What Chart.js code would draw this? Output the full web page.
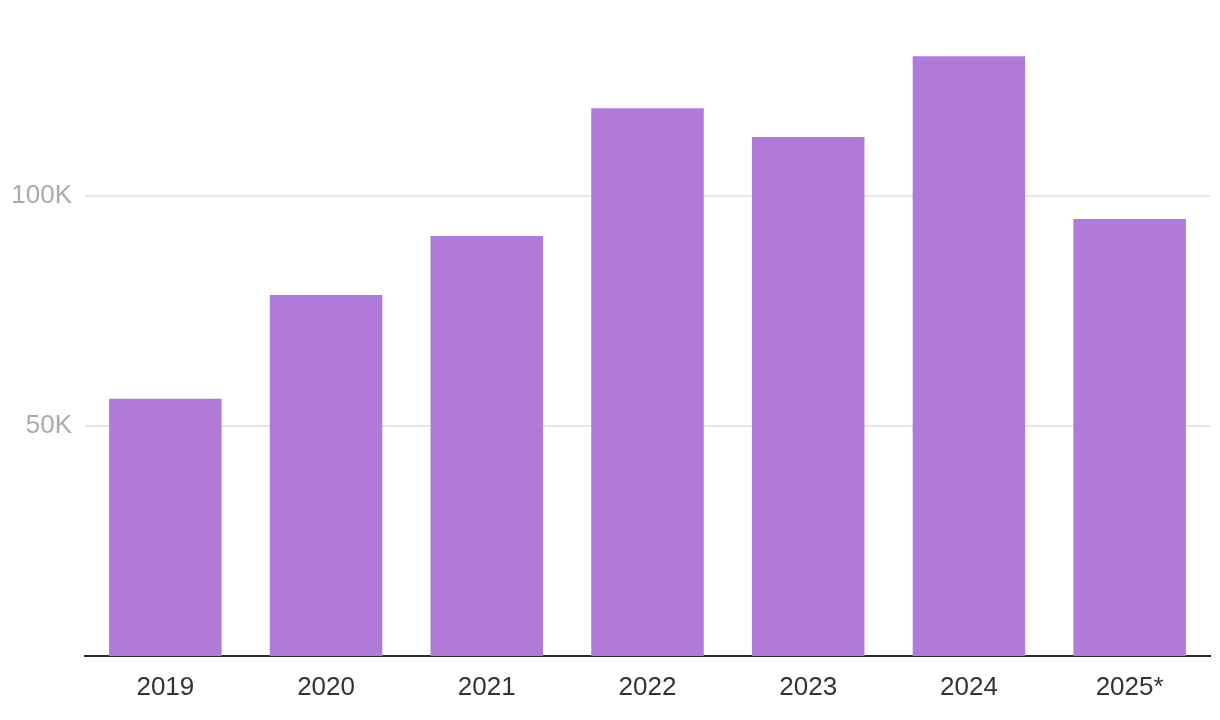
<!DOCTYPE html>
<html>
<head>
<meta charset="utf-8">
<title>Bar chart</title>
<script src="https://cdn.jsdelivr.net/npm/chart.js@4/dist/chart.umd.min.js"></script>
<style>
  html, body { margin: 0; padding: 0; background: #fff; }
  #wrap { width: 1220px; height: 720px; position: relative; }
</style>
</head>
<body>
<div id="wrap"><canvas id="chart"></canvas></div>
<script>
// data
const years = ["2019", "2020", "2021", "2022", "2023", "2024", "2025*"];
const values = [55900, 78500, 91300, 119100, 112800, 130400, 95000];
const yTicks = [50000, 100000];

const barColor = "#b07ad9";

new Chart(document.getElementById("chart"), {
    type: "bar",
    data: {
        labels: years,
        datasets: [{
            data: values,
            backgroundColor: barColor,
            borderWidth: 0,
            categoryPercentage: 1,
            barPercentage: 0.7
        }]
    },
    options: {
        responsive: true,
        maintainAspectRatio: false,
        animation: false,
        layout: {
            padding: { top: 12, right: 10, left: 0, bottom: 0 }
        },
        plugins: {
            legend: { display: false },
            tooltip: { enabled: false }
        },
        scales: {
            x: {
                grid: { display: false },
                border: { display: true, color: "#2a2a2a", width: 2 },
                ticks: {
                    color: "#333",
                    padding: 8,
                    maxRotation: 0,
                    font: { family: "'Liberation Sans', Arial, sans-serif", size: 26 }
                },
                afterFit: scale => {
                    scale.height = 64;
                    scale.paddingLeft = 0;
                    scale.paddingRight = 0;
                }
            },
            y: {
                min: 0,
                max: 140000,
                afterBuildTicks: scale => {
                    scale.ticks = yTicks.map(v => ({ value: v }));
                },
                grid: { color: "#e6e6e6", lineWidth: 2, drawTicks: false },
                border: { display: false },
                ticks: {
                    color: "#aaaaaa",
                    padding: 13,
                    font: { family: "'Liberation Sans', Arial, sans-serif", size: 26 },
                    callback: v => (v / 1000) + "K"
                },
                afterFit: scale => {
                    scale.width = 85;
                    scale.paddingTop = 0;
                    scale.paddingBottom = 0;
                }
            }
        }
    }
});
</script>
</body>
</html>
